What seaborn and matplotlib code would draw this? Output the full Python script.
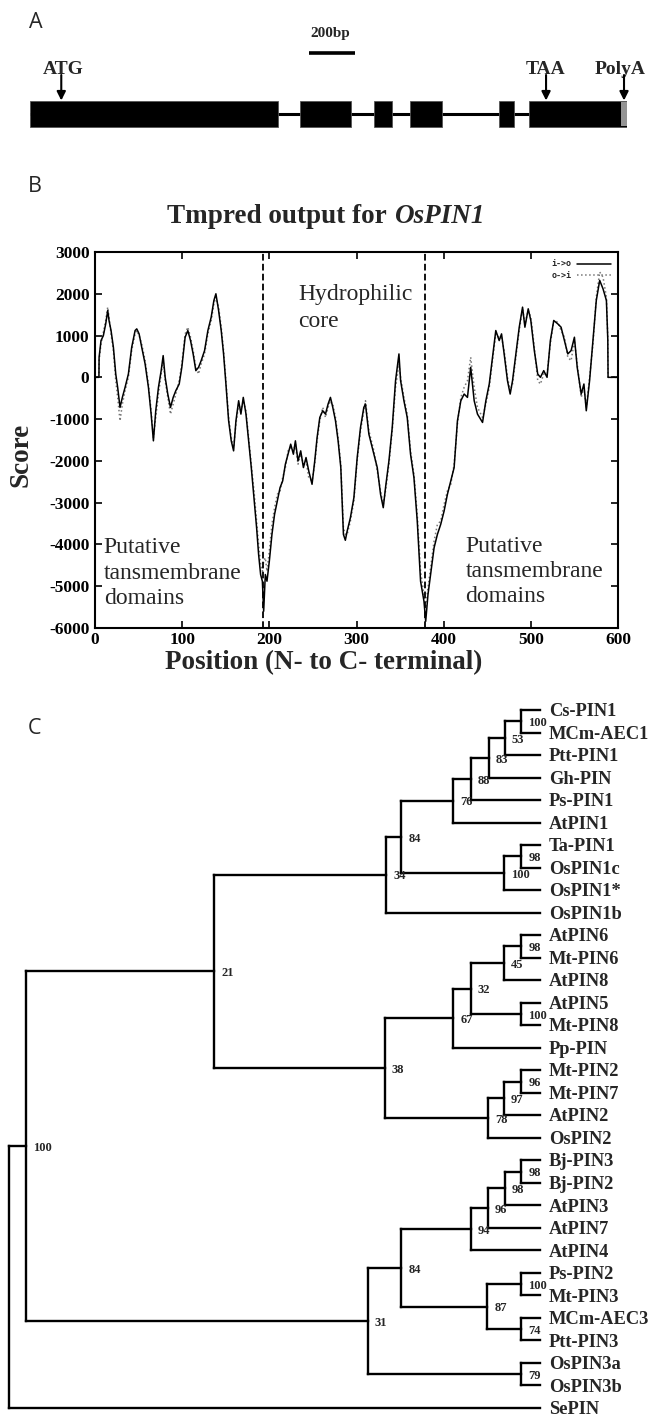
import numpy as np
import pandas as pd
import seaborn as sns
import matplotlib.pyplot as plt
from matplotlib.patches import Rectangle

W, H = 653, 1414

# ---- A: OsPIN1 gene structure, in bp (200 bp bar = 46 px in the drawing)
gene_len = 2596
exon_start = [0, 1175, 1496, 1651, 2039, 2171]
exon_end = [1080, 1398, 1573, 1791, 2104, 2596]
polya_tail = 2571
site_names = ['ATG', 'TAA', 'PolyA']
site_bp = [136, 2244, 2583]
site_label_bp = [146, 2244, 2565]
bar_start, bar_bp = 1214, 200

# ---- B: Tmpred profile (position, score i->o, score o->i)
pos = [0, 4.5, 4.7, 6.9, 9.6, 12.3, 14.6, 16.1, 18.4, 21.1,
       23.8, 26.0, 28.7, 31.4, 34.5, 38.3, 42.1, 46.0, 47.9, 50.6,
       53.6, 57.5, 61.3, 64.4, 67.0, 69.7, 72.8, 75.9, 78.2, 80.5,
       83.5, 86.6, 89.7, 92.7, 96.6, 99.6, 103.4, 106.5, 109.6, 112.6,
       115.7, 118.8, 121.8, 125.7, 129.5, 133.3, 136.4, 138.7, 141.8, 144.8,
       147.5, 150.2, 153.3, 156.3, 159.0, 161.7, 164.8, 167.4, 170.1, 173.2,
       176.2, 179.3, 182.4, 185.4, 187.7, 190.0, 192.0, 193.5, 195.4, 197.3,
       200.0, 203.0, 206.0, 209.2, 212.3, 215.3, 218.4, 221.5, 224.5, 227.6,
       229.9, 232.9, 236.0, 239.1, 242.1, 245.2, 249.0, 252.1, 254.8, 257.9,
       261.3, 264.4, 267.4, 270.1, 272.8, 275.9, 278.9, 282.0, 285.0, 287.2,
       289.3, 293.0, 297.0, 300.8, 304.6, 308.4, 310.3, 314.2, 320.0, 323.8,
       327.6, 330.7, 333.3, 337.2, 341.0, 344.8, 348.7, 350.6, 354.4, 358.2,
       362.0, 365.9, 369.7, 373.5, 377.4, 379.4, 382.0, 385.0, 389.0, 392.8,
       396.6, 400.5, 404.3, 408.2, 412.0, 415.8, 419.7, 423.5, 427.3, 431.0,
       435.0, 438.8, 444.6, 448.4, 452.3, 456.0, 459.8, 463.7, 466.4, 469.4,
       473.2, 476.3, 479.0, 482.9, 486.7, 490.5, 493.2, 497.0, 500.0, 504.0,
       507.9, 511.0, 514.8, 518.6, 522.4, 526.3, 530.9, 534.7, 538.6, 542.4,
       546.2, 550.0, 553.2, 557.8, 560.9, 563.6, 567.4, 571.3, 575.1, 579.0,
       582.8, 586.7, 588.3, 588.6, 600.0]
score_io = [0, 0, 480, 880, 1000, 1280, 1600, 1360, 1120, 720,
            80, -240, -720, -480, -240, 80, 720, 1120, 1160, 1040,
            720, 320, -240, -880, -1520, -800, -240, 160, 520, 0,
            -400, -720, -480, -320, -160, 240, 960, 1120, 880, 560,
            160, 240, 400, 640, 1120, 1440, 1840, 2000, 1600, 1120,
            560, -160, -1040, -1520, -1760, -1040, -560, -880, -480, -880,
            -1520, -2160, -2880, -3600, -4240, -4720, -4880, -5600, -4720, -4880,
            -4400, -3760, -3280, -2960, -2640, -2480, -2080, -1840, -1600, -1840,
            -1520, -2000, -1760, -2160, -1920, -2240, -2560, -2000, -1440, -960,
            -800, -880, -640, -480, -720, -1040, -1520, -2160, -3760, -3900,
            -3680, -3360, -2880, -1920, -1200, -720, -640, -1360, -1840, -2160,
            -2800, -3120, -2640, -2000, -1200, -80, 560, -80, -560, -960,
            -1840, -2400, -3440, -4880, -5360, -5840, -5200, -4720, -4080, -3760,
            -3520, -3200, -2800, -2480, -2160, -1040, -560, -400, -480, 240,
            -560, -880, -1080, -560, -160, 480, 1120, 880, 1040, 560,
            -80, -400, -80, 560, 1200, 1680, 1200, 1640, 1360, 640,
            80, 0, 160, 0, 880, 1360, 1280, 1200, 880, 560,
            640, 960, 240, -400, -160, -800, -80, 880, 1840, 2320,
            2120, 1840, 900, 0, 0]
score_oi = [0, 0, 400, 800, 1080, 1360, 1680, 1440, 1040, 640,
            -80, -480, -1040, -640, -320, 0, 640, 1040, 1120, 1000,
            800, 400, -160, -800, -1440, -960, -400, 80, 400, -80,
            -480, -880, -640, -400, -80, 320, 1040, 1200, 960, 640,
            240, 80, 320, 560, 1040, 1360, 1760, 1920, 1680, 1200,
            640, -80, -960, -1440, -1680, -1120, -640, -800, -560, -800,
            -1440, -2080, -2720, -3440, -4000, -4480, -4640, -4400, -4320, -4640,
            -4160, -3520, -3120, -2800, -2720, -2400, -2160, -1760, -1680, -1760,
            -1600, -2080, -1840, -2080, -2000, -2400, -2480, -2080, -1520, -1040,
            -720, -960, -720, -560, -640, -960, -1440, -2080, -3600, -3760,
            -3760, -3440, -2960, -2000, -1280, -800, -560, -1280, -1760, -2240,
            -2720, -3040, -2720, -2080, -1280, -240, 320, 0, -480, -880,
            -1760, -2320, -3280, -4640, -5200, -5520, -5040, -4560, -3920, -3520,
            -3440, -3040, -2720, -2560, -2080, -1120, -480, -240, -80, 480,
            -240, -720, -960, -640, -240, 400, 1040, 960, 960, 640,
            0, -320, -160, 480, 1120, 1640, 1280, 1600, 1440, 720,
            -80, -160, 80, 80, 800, 1360, 1320, 1120, 960, 480,
            400, 880, 320, -480, -240, -720, 0, 800, 1920, 2520,
            2400, 1920, 960, 0, 0]
tm_bounds = [193, 379]

# ---- C: PIN tree (tips drawn at depth 100)
leaf_names = ['Cs-PIN1', 'MCm-AEC1', 'Ptt-PIN1', 'Gh-PIN', 'Ps-PIN1', 'AtPIN1',
              'Ta-PIN1', 'OsPIN1c', 'OsPIN1*', 'OsPIN1b',
              'AtPIN6', 'Mt-PIN6', 'AtPIN8', 'AtPIN5', 'Mt-PIN8', 'Pp-PIN',
              'Mt-PIN2', 'Mt-PIN7', 'AtPIN2', 'OsPIN2',
              'Bj-PIN3', 'Bj-PIN2', 'AtPIN3', 'AtPIN7', 'AtPIN4',
              'Ps-PIN2', 'Mt-PIN3', 'MCm-AEC3', 'Ptt-PIN3',
              'OsPIN3a', 'OsPIN3b', 'SePIN']
node_ids = ['a', 'b', 'c', 'd', 'e', 'f', 'g', 'h', 'i',
            'j', 'k', 'l', 'm', 'n', 'o', 'p', 'q', 'r', 's21',
            's', 't', 'u', 'v', 'w', 'x', 'y', 'z', 'aa', 'ab', 'n100', 'root']
node_children = [('Cs-PIN1', 'MCm-AEC1'), ('a', 'Ptt-PIN1'), ('b', 'Gh-PIN'),
                 ('c', 'Ps-PIN1'), ('d', 'AtPIN1'), ('Ta-PIN1', 'OsPIN1c'),
                 ('f', 'OsPIN1*'), ('e', 'g'), ('h', 'OsPIN1b'),
                 ('AtPIN6', 'Mt-PIN6'), ('j', 'AtPIN8'), ('AtPIN5', 'Mt-PIN8'),
                 ('k', 'l'), ('m', 'Pp-PIN'), ('Mt-PIN2', 'Mt-PIN7'),
                 ('o', 'AtPIN2'), ('p', 'OsPIN2'), ('n', 'q'), ('i', 'r'),
                 ('Bj-PIN3', 'Bj-PIN2'), ('s', 'AtPIN3'), ('t', 'AtPIN7'),
                 ('u', 'AtPIN4'), ('Ps-PIN2', 'Mt-PIN3'), ('MCm-AEC3', 'Ptt-PIN3'),
                 ('w', 'x'), ('v', 'y'), ('OsPIN3a', 'OsPIN3b'), ('z', 'aa'),
                 ('s21', 'ab'), ('n100', 'SePIN')]
node_depth = [96.5, 93.4, 90.3, 87.0, 83.7, 96.5, 93.2, 73.9, 71.0,
              96.5, 93.2, 96.5, 87.0, 83.7, 96.5, 93.2, 90.2, 70.8, 38.6,
              96.5, 93.4, 90.2, 87.0, 96.5, 96.5, 90.1, 73.9, 96.5, 67.6, 3.15, 0.0]
node_support = [100, 53, 83, 88, 76, 98, 100, 84, 34,
                98, 45, 100, 32, 67, 96, 97, 78, 38, 21,
                98, 98, 96, 94, 100, 74, 87, 84, 79, 31, 100, None]


def fx(px):
    return px / W


def fy(py):
    return 1 - py / H


sns.set_theme(style='ticks')
plt.rcParams['font.family'] = ['Liberation Serif', 'DejaVu Serif']
plt.rcParams['axes.unicode_minus'] = False

fig = plt.figure(figsize=(W / 100, H / 100), dpi=100)
fig.patch.set_facecolor('white')

letter_font = dict(family=['Open Sans', 'DejaVu Sans'], fontsize=15.5, ha='center', va='center')
fig.text(fx(35.5), fy(22.5), 'A', **letter_font)
fig.text(fx(34.5), fy(186), 'B', **letter_font)
fig.text(fx(34.5), fy(728), 'C', **letter_font)

# ---------------- panel A
axA = fig.add_axes([fx(30), fy(140), (627 - 30) / W, 120 / H])
axA.set_xlim(0, gene_len)
axA.set_ylim(0, 120)
axA.axis('off')
axA.hlines(26, 0, gene_len, color='black', lw=2.2, zorder=1)
for s, e in zip(exon_start, exon_end):
    axA.add_patch(Rectangle((s, 13.3), e - s, 25.7, facecolor='black',
                            edgecolor='#555555', lw=0.6, zorder=2))
axA.add_patch(Rectangle((polya_tail, 13.8), gene_len - polya_tail, 24.7,
                        facecolor='#949494', edgecolor='none', zorder=3))
for name, bp, lbp in zip(site_names, site_bp, site_label_bp):
    axA.annotate('', xy=(bp, 39.5), xytext=(bp, 65),
                 arrowprops=dict(arrowstyle='-|>', color='black', lw=1.5,
                                 mutation_scale=13, shrinkA=0, shrinkB=0), zorder=4)
    axA.text(lbp, 71, name, ha='center', va='center', fontsize=14, fontweight='bold')
axA.hlines(87.3, bar_start, bar_start + bar_bp, color='black', lw=2.6)
axA.text(bar_start + bar_bp / 2 - 10, 107, f'{bar_bp}bp', ha='center', va='center',
         fontsize=11, fontweight='bold')

# ---------------- panel B
axB = fig.add_axes([fx(95), fy(628), (618 - 95) / W, (628 - 252) / H])
sns.lineplot(x=pos, y=score_oi, ax=axB, color='#777777', lw=1.1, linestyle=':',
             estimator=None, label='o->i', zorder=2)
sns.lineplot(x=pos, y=score_io, ax=axB, color='black', lw=1.1,
             estimator=None, label='i->o', zorder=3)
for xb in tm_bounds:
    axB.axvline(xb, color='black', lw=1.3, ls=(0, (3.7, 1.8)), zorder=4)
axB.set_xlim(0, 600)
axB.set_ylim(-6000, 3000)
axB.set_xticks(range(0, 601, 100))
axB.set_yticks(range(-6000, 3001, 1000))
axB.tick_params(direction='in', top=True, right=True, length=5, width=1.2,
                labelsize=12.5, colors='black')
axB.tick_params(axis='y', pad=4)
axB.tick_params(axis='x', pad=3)
for lab in axB.get_xticklabels() + axB.get_yticklabels():
    lab.set_fontweight('bold')
for sp in axB.spines.values():
    sp.set_linewidth(1.5)
    sp.set_color('black')

handles, labels = axB.get_legend_handles_labels()
order = [labels.index('i->o'), labels.index('o->i')]
axB.legend([handles[i] for i in order], [labels[i] for i in order],
           loc='upper right', frameon=False, markerfirst=False,
           prop=dict(family='DejaVu Sans Mono', weight='bold', size=6),
           handlelength=4.0, handletextpad=0.7, labelspacing=0.3,
           borderaxespad=0.6, borderpad=0.3)

region_font = dict(fontsize=17, ha='left', va='center')
axB.text(233, 1663, 'Hydrophilic\ncore', linespacing=1.35, **region_font)
axB.text(10, -4690, 'Putative\ntansmembrane\ndomains', linespacing=1.27, **region_font)
axB.text(425, -4650, 'Putative\ntansmembrane\ndomains', linespacing=1.27, **region_font)

axB.set_xlabel('Position (N- to C- terminal)', fontsize=19.5, fontweight='bold')
axB.xaxis.set_label_coords((324 - 95) / 523, (628 - 663) / 376)
axB.xaxis.label.set_va('center')
axB.set_ylabel('Score', fontsize=19.5, fontweight='bold')
axB.yaxis.set_label_coords((21 - 95) / 523, (628 - 455) / 376)
axB.yaxis.label.set_va('center')

t1 = fig.text(0, fy(216.7), 'Tmpred output for', fontsize=19.5, fontweight='bold', va='center')
t2 = fig.text(0, fy(216.7), 'OsPIN1', fontsize=19.5, fontweight='bold', style='italic', va='center')
fig.canvas.draw()
rend = fig.canvas.get_renderer()
w1 = t1.get_window_extent(rend).width
w2 = t2.get_window_extent(rend).width
gap = 19.5 * 1.389 * 0.25
left = 326 - (w1 + gap + w2) / 2
t1.set_x(fx(left))
t2.set_x(fx(left + w1 + gap))

# ---------------- panel C
axC = fig.add_axes([fx(9.3), fy(1408), (540 - 9.3) / W, (1408 - 710) / H])
axC.set_xlim(0, 100)
axC.set_ylim(len(leaf_names) - 1, 0)
axC.axis('off')

node_y = {name: i for i, name in enumerate(leaf_names)}
node_x = {name: 100.0 for name in leaf_names}
for nid, kids, depth in zip(node_ids, node_children, node_depth):
    node_y[nid] = (node_y[kids[0]] + node_y[kids[-1]]) / 2
    node_x[nid] = depth

line_kw = dict(color='black', lw=1.7, solid_capstyle='projecting', clip_on=False)
for nid, kids, sup in zip(node_ids, node_children, node_support):
    x = node_x[nid]
    ys = [node_y[k] for k in kids]
    axC.plot([x, x], [min(ys), max(ys)], **line_kw)
    for k in kids:
        axC.plot([x, node_x[k]], [node_y[k], node_y[k]], **line_kw)
    if sup is not None:
        axC.annotate(str(sup), (x, node_y[nid]), xytext=(5, -1.2), textcoords='offset points',
                     ha='left', va='center', fontsize=9, fontweight='bold',
                     annotation_clip=False)

for name in leaf_names:
    axC.annotate(name, (100, node_y[name]), xytext=(6.5, -1.2), textcoords='offset points',
                 ha='left', va='center', fontsize=13.3, fontweight='bold',
                 annotation_clip=False)

fig.savefig('out.png', dpi=100, facecolor='white')
